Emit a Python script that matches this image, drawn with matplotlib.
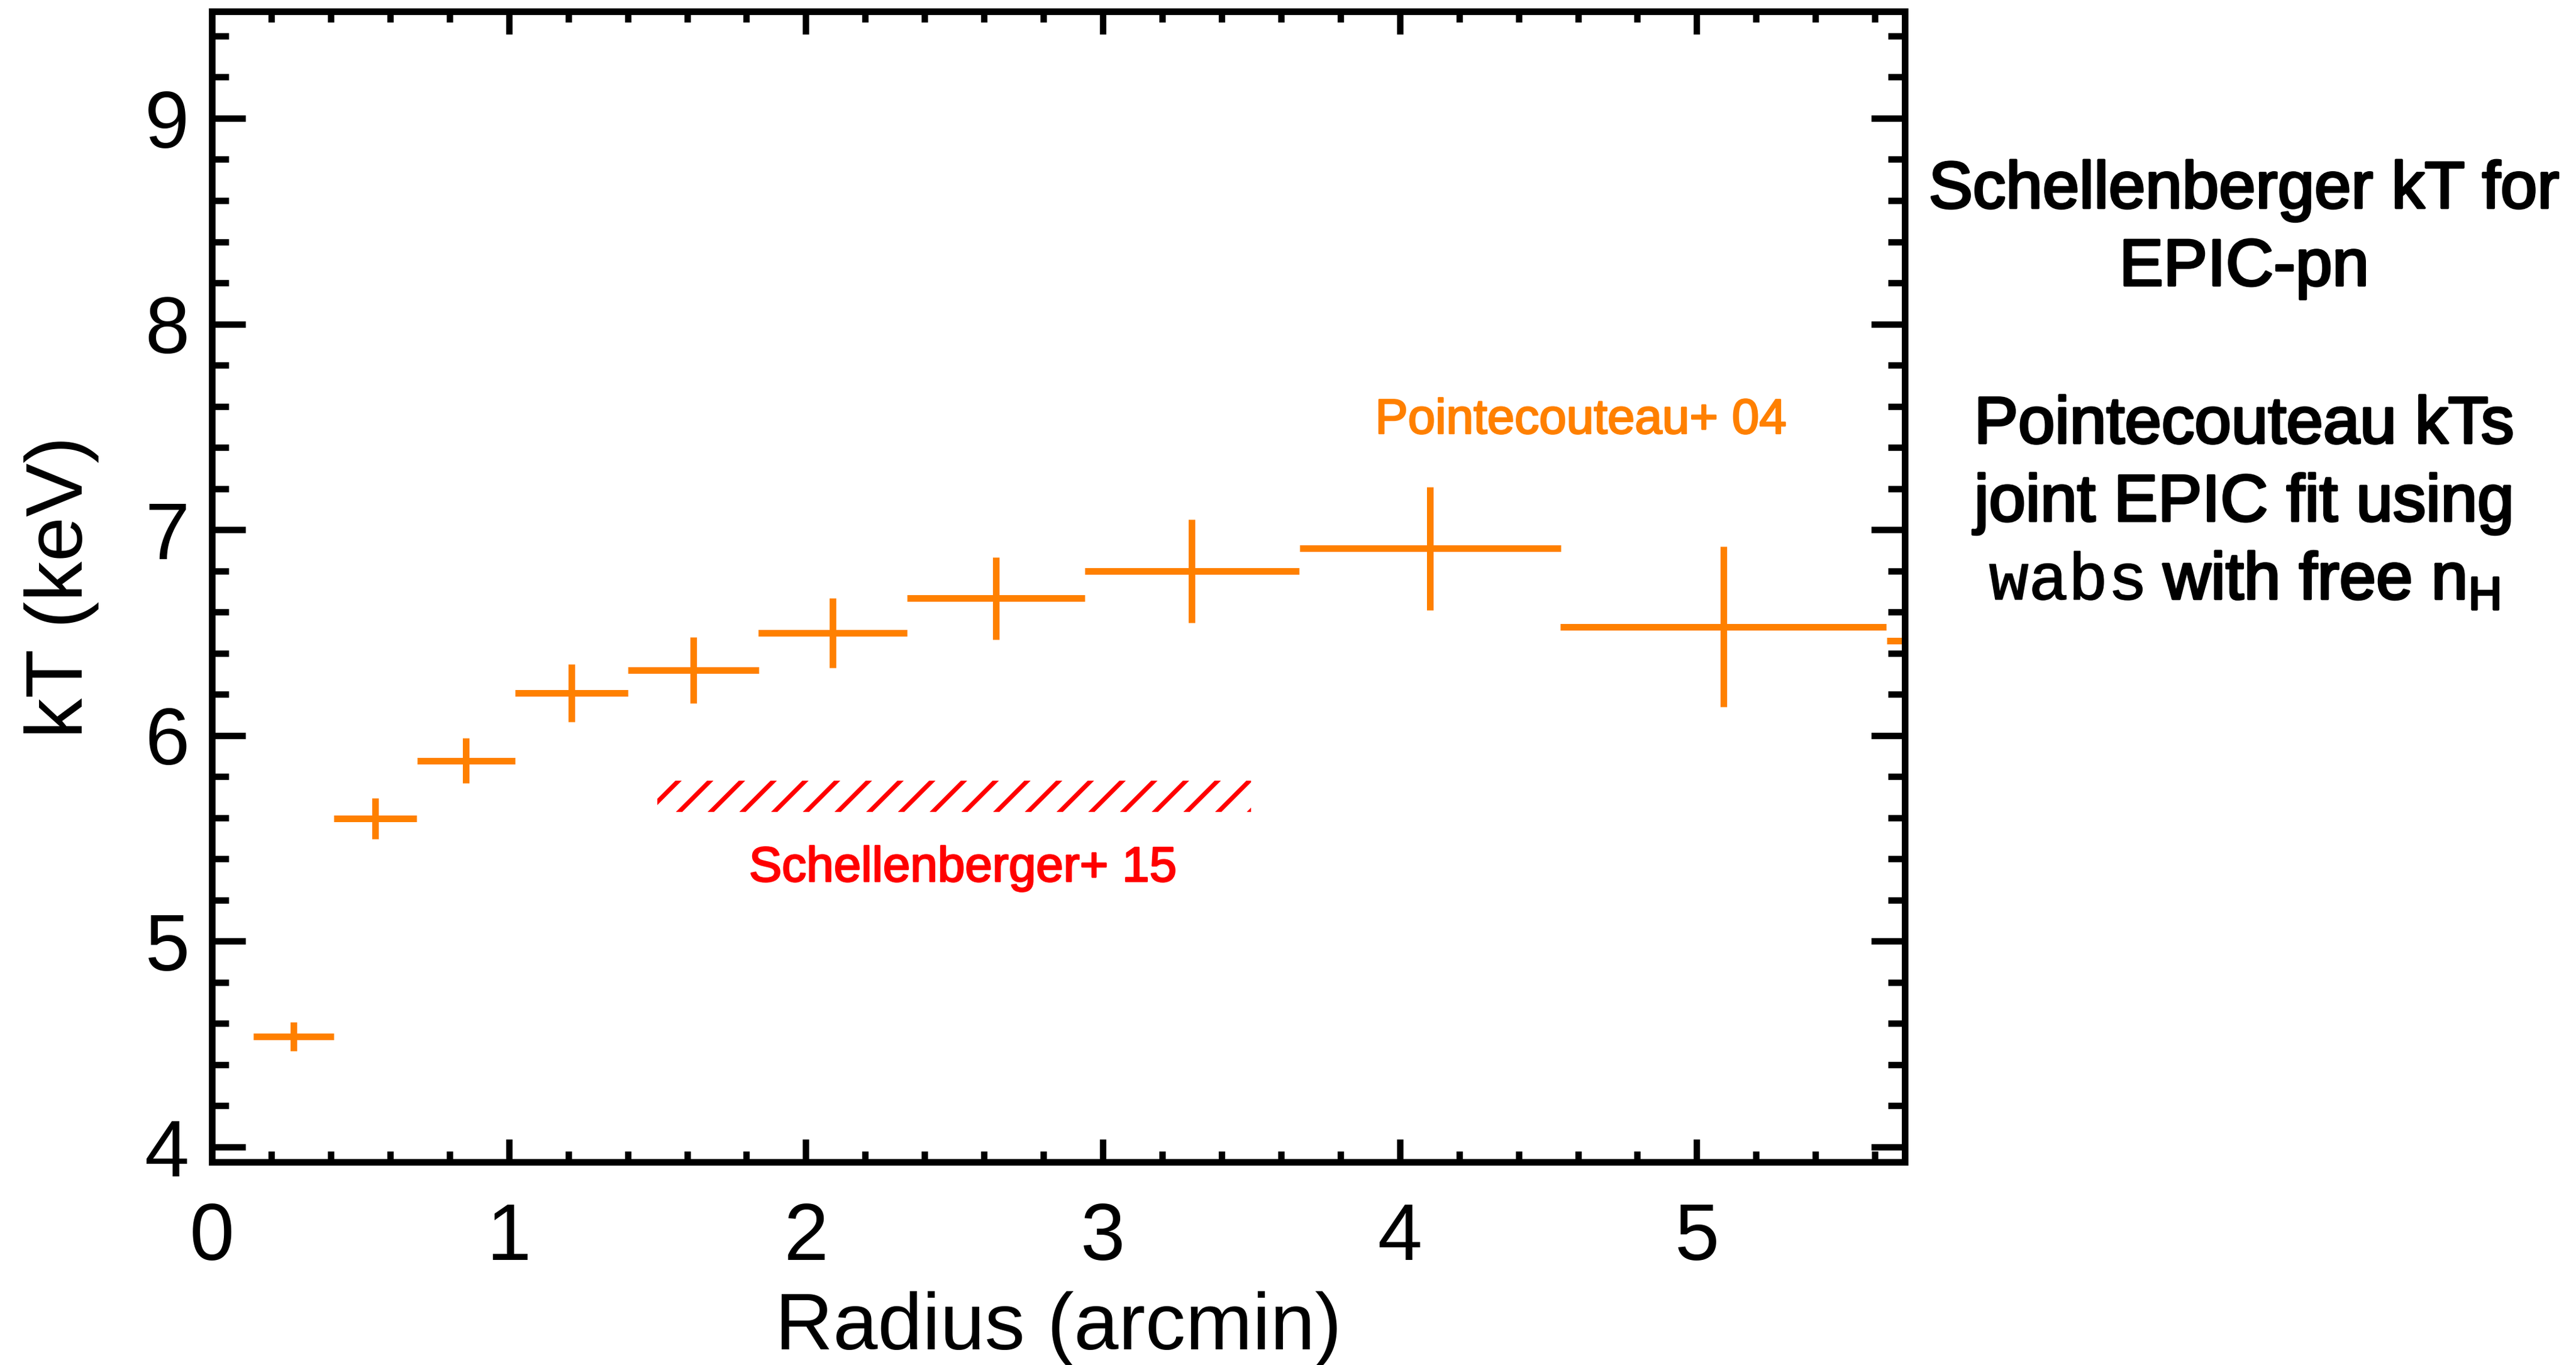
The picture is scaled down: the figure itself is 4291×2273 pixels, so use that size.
import matplotlib
matplotlib.use("Agg")
import matplotlib.pyplot as plt
import matplotlib.patheffects as pe
from matplotlib.ticker import MultipleLocator

plt.rcParams['font.family'] = ['Liberation Sans', 'DejaVu Sans']
plt.rcParams['mathtext.fontset'] = 'custom'
plt.rcParams['mathtext.rm'] = 'Liberation Sans'
plt.rcParams['mathtext.it'] = 'Liberation Sans:italic'
plt.rcParams['mathtext.bf'] = 'Liberation Sans:bold'
plt.rcParams['hatch.linewidth'] = 1.7
plt.rcParams['hatch.color'] = 'red'

# Pointecouteau+04 projected temperature profile (joint EPIC fit)
radius = [0.275, 0.550, 0.856, 1.211, 1.621, 2.090, 2.640, 3.300, 4.102, 5.090, 6.330]
radius_halfwidth = [0.135, 0.140, 0.165, 0.190, 0.220, 0.250, 0.300, 0.361, 0.440, 0.549, 0.690]
kT = [4.537, 5.597, 5.878, 6.207, 6.317, 6.498, 6.667, 6.799, 6.909, 6.528, 6.460]
kT_err = [0.070, 0.100, 0.110, 0.140, 0.161, 0.170, 0.200, 0.250, 0.299, 0.390, 0.450]

# Schellenberger+15 EPIC-pn temperature band
schell_radius = [1.5, 3.5]
schell_kT_low = [5.63, 5.63]
schell_kT_high = [5.78, 5.78]

ORANGE = '#FF8000'
DPI = 317
W, H = 4291, 2273


def heavy(color, width):
    """Thicken glyph strokes without changing the letter spacing."""
    return [pe.withStroke(linewidth=width, foreground=color)]


fig = plt.figure(figsize=((W + 0.2) / DPI, (H + 0.2) / DPI), dpi=DPI)
ax = fig.add_axes([0.08227, 0.14870, 0.73934 - 0.08227, 0.99164 - 0.14870])

ax.errorbar(radius, kT, xerr=radius_halfwidth, yerr=kT_err, fmt='none',
            ecolor=ORANGE, elinewidth=2.5, capsize=0, zorder=2)

ax.fill_between(schell_radius, schell_kT_low, schell_kT_high,
                facecolor='none', edgecolor='red', hatch='//', linewidth=0)

ax.text(4.610, 7.468, 'Pointecouteau+ 04', color=ORANGE, fontsize=18.6,
        ha='center', va='baseline', path_effects=heavy(ORANGE, 0.6))
ax.text(2.529, 5.291, 'Schellenberger+ 15', color='red', fontsize=18.6,
        ha='center', va='baseline', path_effects=heavy('red', 0.6))

ax.set_xlim(0, 5.70)
ax.set_ylim(3.927, 9.52)
ax.xaxis.set_major_locator(MultipleLocator(1))
ax.xaxis.set_minor_locator(MultipleLocator(0.2))
ax.yaxis.set_major_locator(MultipleLocator(1))
ax.yaxis.set_minor_locator(MultipleLocator(0.2))

ax.tick_params(which='both', direction='in', top=True, right=True,
               width=2.4, color='black', labelsize=30.4)
ax.tick_params(axis='x', which='major', length=8.7, pad=15)
ax.tick_params(axis='x', which='minor', length=4.2)
ax.tick_params(axis='y', which='major', length=12.7, pad=8.5)
ax.tick_params(axis='y', which='minor', length=6.4)
for s in ax.spines.values():
    s.set_linewidth(2.5)

ax.set_xlabel('Radius (arcmin)', fontsize=30.4)
ax.set_ylabel('kT (keV)', fontsize=30.4)
ax.xaxis.set_label_coords(0.5, -0.1122)
ax.yaxis.set_label_coords(-0.0667, 0.5)

# Side notes
note_x = 0.8711
note_lines = [
    (0.84760, 'Schellenberger kT for'),
    (0.79081, 'EPIC-pn'),
    (0.67536, 'Pointecouteau kTs'),
    (0.61830, 'joint EPIC fit using'),
]
for y, line in note_lines:
    fig.text(note_x, y, line, fontsize=25, ha='center', va='baseline',
             path_effects=heavy('black', 0.9))

# last line: model name in typewriter face, rest in the sans face
last_y = 0.56093
fig.text(3313 / W, last_y, 'wabs', fontsize=25, family='Liberation Mono',
         ha='left', va='baseline', path_effects=heavy('black', 0.4))
fig.text(3603 / W, last_y, r'with free $\mathrm{n}_\mathrm{H}$', fontsize=25,
         ha='left', va='baseline', path_effects=heavy('black', 0.9))

fig.savefig('out.png', dpi=DPI)
